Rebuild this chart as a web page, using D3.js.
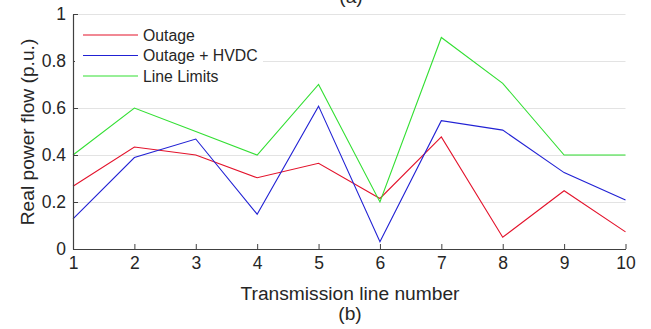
<!DOCTYPE html>
<html><head><meta charset="utf-8">
<script src="https://cdn.jsdelivr.net/npm/d3@7"></script>
<style>body{margin:0;background:#fff}svg{display:block}text{font-family:Arial,"Liberation Sans",Helvetica,sans-serif}</style>
</head><body><svg id="c" width="651" height="329"></svg>
<script>
const lineNumbers = [1,2,3,4,5,6,7,8,9,10];
const outage      = [0.267,0.434,0.400,0.303,0.365,0.215,0.477,0.050,0.248,0.073];
const outageHVDC  = [0.128,0.389,0.468,0.148,0.608,0.031,0.546,0.506,0.325,0.208];
const lineLimits  = [0.40,0.60,0.50,0.40,0.70,0.20,0.90,0.705,0.40,0.40];
const yTicks = [0,0.2,0.4,0.6,0.8,1];
const seriesNames = ["Outage","Outage + HVDC","Line Limits"];
const seriesColors = ["#e3122b","#2121d4","#33df33"];

const svg = d3.select("#c");
const x = d3.scaleLinear().domain([1,10]).range([73,625.5]);
const y = d3.scaleLinear().domain([0,1]).range([249,14]);
const axisCol = "#404040";

// grid
svg.append("g").selectAll("line").data(yTicks.slice(1)).join("line")
  .attr("x1",x(1)).attr("x2",x(10)).attr("y1",d=>y(d)+0.5).attr("y2",d=>y(d)+0.5)
  .attr("stroke","#e3e3e3").attr("stroke-width",1);

// series
const all = [outage,outageHVDC,lineLimits];
const gen = d3.line().x((d,i)=>x(lineNumbers[i])).y(d=>y(d));
all.forEach((s,k)=>{
  svg.append("path").datum(s).attr("d",gen).attr("fill","none")
    .attr("stroke",seriesColors[k]).attr("stroke-width",1.1);
});

// axes
const xAxis = d3.axisBottom(x).tickValues(lineNumbers).tickFormat(d3.format("d")).tickSizeInner(-5).tickSizeOuter(0).tickPadding(8);
const gx = svg.append("g").attr("transform",`translate(0,${y(0)})`).call(xAxis);
const yAxis = d3.axisLeft(y).tickValues(yTicks).tickFormat(d=>d===0||d===1?String(d):d3.format(".1f")(d)).tickSizeInner(-5).tickSizeOuter(0).tickPadding(7);
const gy = svg.append("g").attr("transform",`translate(${x(1)},0)`).call(yAxis);
[gx,gy].forEach(g=>{
  g.select(".domain").attr("stroke",axisCol).attr("stroke-width",1.2);
  g.selectAll(".tick line").attr("stroke",axisCol);
  g.selectAll(".tick text").attr("fill","#262626").style("font-size","17.5px");
});

// legend
const lg = svg.append("g");
lg.append("rect").attr("x",75).attr("y",20).attr("width",188).attr("height",64).attr("fill","#fff");
seriesNames.forEach((n,i)=>{
  const yy = 35 + i*20.5;
  lg.append("line").attr("x1",83).attr("x2",138).attr("y1",yy).attr("y2",yy)
    .attr("stroke",seriesColors[i]).attr("stroke-width",1.1);
  lg.append("text").attr("x",143).attr("y",yy+5.5).text(n)
    .style("font-size","15.8px").attr("fill","#262626");
});

// labels
svg.append("text").attr("x",350).attr("y",300).attr("text-anchor","middle")
  .style("font-size","19.2px").attr("fill","#262626").text("Transmission line number");
svg.append("text").attr("transform","translate(34,132) rotate(-90)").attr("text-anchor","middle")
  .style("font-size","19.2px").attr("fill","#262626").text("Real power flow (p.u.)");
svg.append("text").attr("x",350).attr("y",320).attr("text-anchor","middle")
  .style("font-size","19.2px").attr("fill","#262626").text("(b)");
svg.append("text").attr("x",351).attr("y",3).attr("text-anchor","middle")
  .style("font-size","19.2px").attr("fill","#262626").text("(a)");
</script></body></html>
